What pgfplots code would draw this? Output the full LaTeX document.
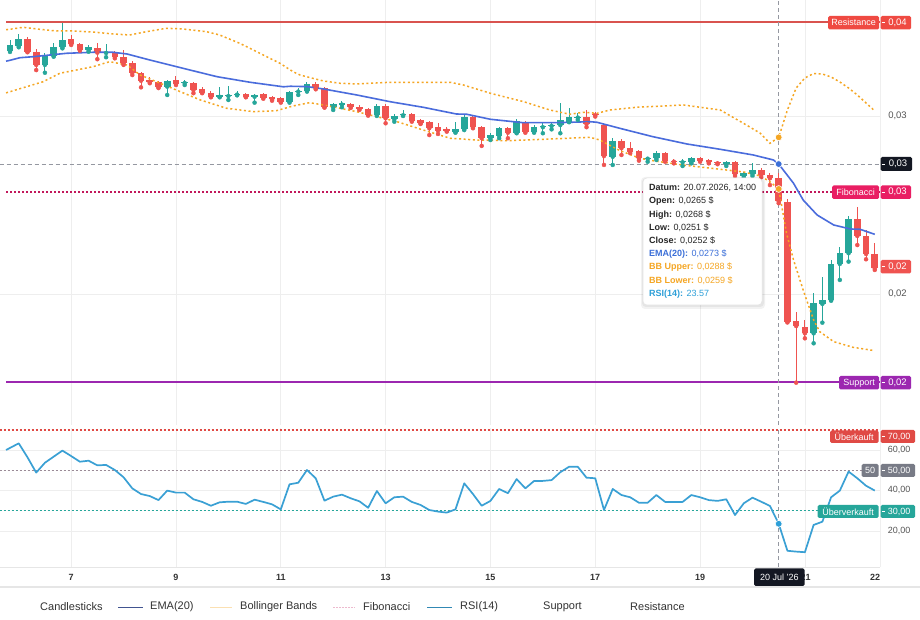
\documentclass[border=0pt]{standalone}
\usepackage{fontspec}
\setmainfont{Liberation Sans}
\usepackage{pgfplots}
\usepackage{pgfplotstable}
\pgfplotsset{compat=1.18}
\definecolor{upc}{HTML}{26A69A}
\definecolor{dnc}{HTML}{EF5350}
\definecolor{emac}{HTML}{4A6CDC}
\definecolor{bbc}{HTML}{F5A623}
\definecolor{rsic}{HTML}{3AA0D4}
\definecolor{resc}{HTML}{D9534F}
\definecolor{reslab}{HTML}{EF4A42}
\definecolor{fibc}{HTML}{C2185B}
\definecolor{fiblab}{HTML}{E91E63}
\definecolor{supc}{HTML}{9C27B0}
\definecolor{gridc}{HTML}{EEEEEE}
\definecolor{crossc}{HTML}{9598A1}
\definecolor{darklab}{HTML}{131722}
\definecolor{graylab}{HTML}{787B86}
\definecolor{txt}{HTML}{333333}
\definecolor{scaletxt}{HTML}{555555}
\definecolor{ttemac}{HTML}{3B6FD8}
\definecolor{ttrsi}{HTML}{2D9FD8}
\definecolor{obc}{HTML}{E04A45}
\definecolor{midc}{HTML}{9A8A96}

\pgfplotstableread{
i o h l c
0 0.03367 0.03427 0.03360 0.03399
1 0.03393 0.03461 0.03386 0.03431
4 0.03287 0.03354 0.03243 0.03343
5 0.03337 0.03408 0.03333 0.03389
6 0.03386 0.03524 0.03380 0.03427
9 0.03371 0.03399 0.03361 0.03386
11 0.03354 0.03405 0.03330 0.03358
18 0.03165 0.03202 0.03118 0.03197
20 0.03185 0.03202 0.03174 0.03189
24 0.03108 0.03165 0.03105 0.03118
25 0.03112 0.03169 0.03090 0.03118
26 0.03120 0.03142 0.03116 0.03124
28 0.03108 0.03124 0.03075 0.03118
32 0.03080 0.03142 0.03075 0.03137
33 0.03137 0.03156 0.03118 0.03141
34 0.03142 0.03193 0.03137 0.03180
37 0.03049 0.03071 0.03034 0.03066
38 0.03064 0.03086 0.03049 0.03071
42 0.03006 0.03066 0.03000 0.03056
44 0.02982 0.03010 0.02968 0.03002
45 0.03004 0.03034 0.03000 0.03010
51 0.02910 0.02968 0.02906 0.02925
52 0.02925 0.03006 0.02921 0.02996
55 0.02875 0.02906 0.02865 0.02893
56 0.02889 0.02940 0.02875 0.02931
58 0.02906 0.02983 0.02903 0.02974
60 0.02912 0.02949 0.02906 0.02940
61 0.02937 0.02959 0.02903 0.02940
62 0.02944 0.02968 0.02925 0.02949
63 0.02949 0.03075 0.02903 0.02978
64 0.02968 0.03043 0.02965 0.02993
65 0.02991 0.03019 0.02978 0.02996
69 0.02771 0.02875 0.02725 0.02861
73 0.02760 0.02771 0.02743 0.02762
74 0.02762 0.02803 0.02753 0.02794
77 0.02740 0.02757 0.02719 0.02743
78 0.02740 0.02771 0.02734 0.02762
82 0.02730 0.02749 0.02719 0.02740
84 0.02665 0.02687 0.02656 0.02678
85 0.02674 0.02738 0.02663 0.02697
92 0.01779 0.02004 0.01723 0.01948
93 0.01944 0.02097 0.01839 0.01966
94 0.01966 0.02191 0.01962 0.02169
95 0.02169 0.02262 0.02079 0.02229
96 0.02229 0.02438 0.02182 0.02421
}\upC

\pgfplotstableread{
i o h l c
2 0.03433 0.03446 0.03358 0.03361
3 0.03361 0.03375 0.03258 0.03287
7 0.03433 0.03455 0.03399 0.03403
8 0.03405 0.03408 0.03367 0.03371
10 0.03380 0.03408 0.03319 0.03356
12 0.03358 0.03367 0.03324 0.03333
13 0.03330 0.03371 0.03287 0.03296
14 0.03296 0.03311 0.03230 0.03243
15 0.03243 0.03249 0.03161 0.03198
16 0.03202 0.03217 0.03184 0.03189
17 0.03191 0.03198 0.03157 0.03161
19 0.03202 0.03225 0.03174 0.03180
21 0.03184 0.03193 0.03128 0.03146
22 0.03150 0.03165 0.03128 0.03131
23 0.03131 0.03142 0.03105 0.03108
27 0.03124 0.03131 0.03105 0.03108
29 0.03124 0.03131 0.03097 0.03103
30 0.03105 0.03112 0.03086 0.03094
31 0.03100 0.03105 0.03075 0.03079
35 0.03180 0.03193 0.03150 0.03156
36 0.03156 0.03161 0.03047 0.03049
39 0.03067 0.03075 0.03045 0.03052
40 0.03052 0.03062 0.03034 0.03038
41 0.03039 0.03047 0.03002 0.03006
43 0.03056 0.03066 0.02959 0.02987
46 0.03010 0.03015 0.02968 0.02974
47 0.02978 0.02982 0.02955 0.02959
48 0.02965 0.02972 0.02893 0.02931
49 0.02937 0.02959 0.02899 0.02917
50 0.02925 0.02937 0.02912 0.02917
53 0.02996 0.03006 0.02931 0.02937
54 0.02937 0.02944 0.02832 0.02875
57 0.02931 0.02937 0.02875 0.02906
59 0.02962 0.02972 0.02906 0.02912
66 0.02993 0.03034 0.02937 0.02955
67 0.03008 0.03023 0.02997 0.03004
68 0.02949 0.02959 0.02725 0.02775
70 0.02861 0.02869 0.02781 0.02819
71 0.02819 0.02856 0.02791 0.02800
72 0.02805 0.02809 0.02749 0.02762
75 0.02794 0.02800 0.02743 0.02747
76 0.02747 0.02757 0.02734 0.02743
79 0.02766 0.02771 0.02743 0.02749
80 0.02753 0.02757 0.02734 0.02740
81 0.02743 0.02749 0.02729 0.02734
83 0.02743 0.02749 0.02663 0.02673
86 0.02697 0.02706 0.02656 0.02669
87 0.02669 0.02682 0.02612 0.02650
88 0.02650 0.02680 0.02510 0.02520
89 0.02519 0.02532 0.01840 0.01844
90 0.01850 0.01901 0.01502 0.01820
91 0.01816 0.01854 0.01751 0.01779
97 0.02421 0.02487 0.02275 0.02326
98 0.02326 0.02360 0.02195 0.02225
99 0.02225 0.02285 0.02135 0.02144
}\dnC

\pgfplotstableread{
i v
-0.45 0.033080
0 0.033129
1.14 0.033275
2.67 0.033332
6.5 0.033523
9.5 0.033579
11.8 0.033579
13.4 0.033483
16.0 0.033146
19.8 0.032680
23.7 0.032208
27.5 0.031893
31.3 0.031640
32.1 0.031670
34.0 0.031650
35.9 0.031517
39.7 0.031180
43.5 0.030804
47.3 0.030489
51.1 0.030112
52.3 0.030096
55.0 0.029815
58.7 0.029624
62.6 0.029624
66.4 0.029680
67.2 0.029646
69.8 0.029309
73.6 0.028837
77.5 0.028427
81.3 0.028129
85.1 0.027809
87.4 0.027528
88 0.027300
89.7 0.026219
90.8 0.025281
92.4 0.024438
94.3 0.023876
96.2 0.023652
97.3 0.023635
99 0.023354
}\ema

\pgfplotstableread{
i v
-0.45 0.034850
0 0.034871
1.5 0.034983
3.4 0.034871
5.3 0.034775
7.2 0.034775
9.5 0.034719
11.8 0.034607
13.7 0.034551
15.6 0.034736
17.9 0.034927
19.8 0.034888
22.5 0.034736
24.0 0.034551
26.3 0.034084
28.6 0.033523
30.9 0.032961
32.4 0.032489
33.2 0.032303
35.1 0.032062
35.9 0.031966
37.8 0.031837
39.7 0.031798
43.5 0.031893
47.3 0.031893
50.4 0.031893
51.9 0.031742
55.0 0.031275
58.8 0.030804
61.8 0.030337
64.1 0.030096
65.6 0.030208
67.2 0.030152
68.7 0.030337
71.7 0.030489
77.1 0.030618
81.3 0.030337
84.3 0.029494
85.9 0.029028
87 0.028466
88 0.028800
89 0.030337
90 0.031573
91 0.032135
92 0.032388
93 0.032360
94 0.032191
95 0.031910
96 0.031573
97 0.031180
98 0.030730
99 0.030281
}\bbu

\pgfplotstableread{
i v
-0.45 0.031300
0 0.031365
1.9 0.031646
3.8 0.031927
5.7 0.032399
7.6 0.032584
9.5 0.032770
11.4 0.033051
13.4 0.032865
14.9 0.032303
17.2 0.031837
19.5 0.031365
21.8 0.030899
24.8 0.030433
27.9 0.030242
30.5 0.030298
32.4 0.030562
34.3 0.030747
35.9 0.030618
39.7 0.030242
44.3 0.029680
47.3 0.029214
50.4 0.028747
53.4 0.028652
56.9 0.028612
61.1 0.028691
66.4 0.028804
67.5 0.028652
69.8 0.028062
72.1 0.027624
73.6 0.027489
77 0.027247
81 0.027022
84 0.026854
85.9 0.026629
87 0.026309
88 0.025900
88.9 0.023410
89.7 0.021910
90.8 0.020225
92.0 0.018539
92.7 0.017882
94.3 0.017320
96.5 0.017006
99 0.016815
}\bbl

\pgfplotstableread{
i v
-0.45 60.1
1 63.4
2 56.5
3 48.9
4 53.8
5 56.8
6 59.8
7 57.1
8 54.3
9 54.8
10 52.5
11 52.7
12 50.2
13 46.6
14 41.1
15 38.3
16 37.3
17 35.3
18 40.0
19 39.0
20 39.0
21 35.7
22 34.4
23 32.5
24 34.2
25 34.5
26 34.5
27 33.4
28 35.5
29 34.4
30 33.2
31 30.7
32 43.1
33 43.9
34 50.2
35 46.1
36 35.0
37 37.0
38 38.0
39 36.2
40 34.7
41 31.5
42 39.8
43 33.7
44 36.7
45 37.0
46 34.4
47 32.9
48 30.4
49 29.6
50 29.1
51 30.7
52 43.6
53 38.3
54 32.5
55 34.9
56 40.8
57 38.7
58 45.7
59 41.1
60 44.8
61 44.8
62 45.2
63 49.1
64 51.8
65 51.8
66 46.4
67 46.1
68 30.4
69 40.8
70 37.8
71 36.7
72 34.0
73 34.0
74 37.8
75 34.4
76 34.4
77 34.4
78 37.8
79 36.7
80 35.3
81 34.9
82 35.7
83 27.9
84 33.7
85 36.5
86 34.5
87 32.4
88 23.57
89 10.2
90 9.8
91 9.5
92 23.0
93 24.6
94 36.7
95 40.0
96 49.4
97 46.1
98 42.4
99 40.0
}\rsi

\pgfplotsset{
  paneopts/.style={
    scale only axis, width=880pt, anchor=south west,
    xmin=-1.1448, xmax=99.599,
    xtick={7,19,31,43,55,67,79,91},
    xticklabels={}, yticklabels={},
    major tick length=0pt, tick style={draw=none},
    xmajorgrids, ymajorgrids,
    grid style={draw=gridc, line width=0.8pt},
    axis line style={draw=none},
    scaled y ticks=false,
  },
  wick/.style={only marks, mark=none, color=#1, forget plot,
    error bars/.cd, y dir=plus, y explicit, error mark=none,
    error bar style={line width=1pt, color=#1}},
  body/.style={only marks, mark=none, color=#1, forget plot,
    error bars/.cd, y dir=plus, y explicit, error mark=none,
    error bar style={line width=6.6pt, color=#1}},
}

\begin{document}
\begin{tikzpicture}
\path[use as bounding box] (0pt,0pt) rectangle (920pt,620pt);
\fill[white] (0pt,0pt) rectangle (920pt,620pt);

% ---------------- main price pane ----------------
\begin{axis}[paneopts, at={(0pt,195pt)}, height=425pt,
  ymin=0.01264, ymax=0.036517, ytick={0.02,0.03}]
\addplot[resc, line width=2.2pt, forget plot] coordinates {(-0.45,0.03528) (99.6,0.03528)};
\addplot[crossc, line width=0.8pt, dash pattern=on 4pt off 3pt, forget plot] coordinates {(-1.2,0.0273) (99.6,0.0273)};
\addplot[fibc, line width=1.3pt, dash pattern=on 2pt off 2pt, forget plot] coordinates {(-0.45,0.02573) (99.6,0.02573)};
\addplot[supc, line width=1.8pt, forget plot] coordinates {(-0.45,0.01506) (99.6,0.01506)};
\addplot[crossc, line width=0.8pt, dash pattern=on 4pt off 3pt, forget plot] coordinates {(88,0.01264) (88,0.036517)};
% wicks
\addplot[wick=upc] table[x=i, y=l, y error plus expr=\thisrow{h}-\thisrow{l}] {\upC};
\addplot[wick=dnc] table[x=i, y=l, y error plus expr=\thisrow{h}-\thisrow{l}] {\dnC};
% bodies
\addplot[body=upc] table[x=i, y=o, y error plus expr={max(\thisrow{c}-\thisrow{o},0.00006)}] {\upC};
\addplot[body=dnc] table[x=i, y=c, y error plus expr={max(\thisrow{o}-\thisrow{c},0.00006)}] {\dnC};
% bands and EMA
\addplot[bbc, line width=1.5pt, dash pattern=on 2pt off 2.6pt, forget plot] table[x=i,y=v] {\bbu};
\addplot[bbc, line width=1.5pt, dash pattern=on 2pt off 2.6pt, forget plot] table[x=i,y=v] {\bbl};
\addplot[emac, line width=1.6pt, line join=round, forget plot] table[x=i,y=v] {\ema};
% hover markers
\addplot[only marks, mark=*, mark size=3.4pt, mark options={fill=bbc, draw=white, line width=0.6pt}, forget plot] coordinates {(88,0.0288) (88,0.0259)};
\addplot[only marks, mark=*, mark size=3.4pt, mark options={fill=ttemac, draw=white, line width=0.6pt}, forget plot] coordinates {(88,0.0273)};
\end{axis}

% ---------------- RSI pane ----------------
\begin{axis}[paneopts, at={(0pt,53pt)}, height=139pt,
  ymin=2.178, ymax=70.99, ytick={20,40,60}]
\addplot[color=obc, line width=1.3pt, dash pattern=on 2pt off 2pt, forget plot] coordinates {(-1.2,70) (99.6,70)};
\addplot[color=midc, line width=1.3pt, dash pattern=on 2pt off 2pt, forget plot] coordinates {(-1.2,50) (99.6,50)};
\addplot[color=upc, line width=1.3pt, dash pattern=on 2pt off 2pt, forget plot] coordinates {(-1.2,30) (99.6,30)};
\addplot[crossc, line width=0.8pt, dash pattern=on 4pt off 3pt, forget plot] coordinates {(88,2.178) (88,70.99)};
\addplot[rsic, line width=1.7pt, line join=round, forget plot] table[x=i,y=v] {\rsi};
\addplot[only marks, mark=*, mark size=3.4pt, mark options={fill=ttrsi, draw=white, line width=0.6pt}, forget plot] coordinates {(88,23.57)};
\end{axis}

% ---------------- annotations in pixel coordinates ----------------
\begin{scope}[x=1pt, y=-1pt, shift={(0pt,620pt)}]
% separators
\draw[draw=gridc!80!gray!40, line width=0.8pt] (880,0) -- (880,567);
\draw[draw=gridc!70!gray!50, line width=0.8pt] (0,567.5) -- (880,567.5);
\draw[draw=gridc!70!gray!50, line width=1.4pt] (0,587) -- (920,587);

% tooltip
\fill[black, opacity=0.05, rounded corners=4pt] (641,177) rectangle (765,309);
\fill[black, opacity=0.05, rounded corners=4pt] (642,178) rectangle (764,307);
\filldraw[fill=white, draw=black!10, line width=0.5pt, rounded corners=4pt] (643,178) rectangle (762,305);
\begin{scope}[every node/.style={anchor=west, inner sep=0pt, font=\fontsize{9}{10}\selectfont, text=black!85}]
\node at (649,188.3) {\textbf{Datum:} 20.07.2026, 14:00};
\node at (649,201.5) {\textbf{Open:} 0,0265 \$};
\node at (649,214.7) {\textbf{High:} 0,0268 \$};
\node at (649,228) {\textbf{Low:} 0,0251 \$};
\node at (649,241.2) {\textbf{Close:} 0,0252 \$};
\node[text=ttemac] at (649,254.4) {\textbf{EMA(20):} 0,0273 \$};
\node[text=bbc] at (649,267.6) {\textbf{BB Upper:} 0,0288 \$};
\node[text=bbc] at (649,280.8) {\textbf{BB Lower:} 0,0259 \$};
\node[text=ttrsi] at (649,294) {\textbf{RSI(14):} 23.57};
\end{scope}

% price scale labels (main)
\begin{scope}[every node/.style={inner sep=0pt, font=\fontsize{9}{10}\selectfont}]
% Resistance
\fill[reslab, rounded corners=1.5pt] (828,16) rectangle (879,29.5);
\node[text=white] at (853.5,22.7) {Resistance};
\fill[reslab, rounded corners=1.5pt] (880.5,16) rectangle (911,29.5);
\draw[white, line width=0.7pt] (881.5,22.7) -- (884.5,22.7);
\node[text=white, font=\fontsize{9.5}{10}\selectfont] at (897.5,22.7) {0,04};
% gray 0,03
\node[text=scaletxt, font=\fontsize{9.5}{10}\selectfont] at (897.5,116) {0,03};
% crosshair price
\fill[darklab, rounded corners=1.5pt] (880.5,157) rectangle (912,171);
\draw[white, line width=0.7pt] (881.5,164) -- (884.5,164);
\node[text=white, font=\fontsize{9.5}{10}\selectfont] at (898,164) {0,03};
% Fibonacci
\fill[fiblab, rounded corners=1.5pt] (832,185.5) rectangle (879,199);
\node[text=white] at (855.5,192.2) {Fibonacci};
\fill[fiblab, rounded corners=1.5pt] (880.5,185.5) rectangle (911,199);
\draw[white, line width=0.7pt] (881.5,192.2) -- (884.5,192.2);
\node[text=white, font=\fontsize{9.5}{10}\selectfont] at (897.5,192.2) {0,03};
% last price
\fill[dnc, rounded corners=1.5pt] (880.5,260) rectangle (911,273.5);
\draw[white, line width=0.7pt] (881.5,266.8) -- (884.5,266.8);
\node[text=white, font=\fontsize{9.5}{10}\selectfont] at (897.5,266.8) {0,02};
% gray 0,02
\node[text=scaletxt, font=\fontsize{9.5}{10}\selectfont] at (897.5,294) {0,02};
% Support
\fill[supc, rounded corners=1.5pt] (839,376) rectangle (879,389.5);
\node[text=white] at (859,382.8) {Support};
\fill[supc, rounded corners=1.5pt] (880.5,376) rectangle (911,389.5);
\draw[white, line width=0.7pt] (881.5,382.8) -- (884.5,382.8);
\node[text=white, font=\fontsize{9.5}{10}\selectfont] at (897.5,382.8) {0,02};

% RSI scale labels
\fill[obc, rounded corners=1.5pt] (830,430.5) rectangle (878.5,443);
\node[text=white] at (854.2,436.8) {Überkauft};
\fill[obc, rounded corners=1.5pt] (880.5,430) rectangle (915,443);
\draw[white, line width=0.7pt] (881.5,436.5) -- (884.5,436.5);
\node[text=white] at (899,436.5) {70,00};
\node[text=scaletxt] at (899,449.5) {60,00};
\fill[graylab, rounded corners=1.5pt] (861.5,464) rectangle (878.5,477);
\node[text=white] at (870,470.5) {50};
\fill[graylab, rounded corners=1.5pt] (880.5,464) rectangle (915,477);
\draw[white, line width=0.7pt] (881.5,470.5) -- (884.5,470.5);
\node[text=white] at (899,470.5) {50,00};
\node[text=scaletxt] at (899,490) {40,00};
\fill[upc, rounded corners=1.5pt] (817.5,505) rectangle (878.5,518);
\node[text=white] at (848,511.5) {Überverkauft};
\fill[upc, rounded corners=1.5pt] (880.5,505) rectangle (915,518);
\draw[white, line width=0.7pt] (881.5,511.5) -- (884.5,511.5);
\node[text=white] at (899,511.5) {30,00};
\node[text=scaletxt] at (899,530.5) {20,00};
\end{scope}

% time axis
\begin{scope}[every node/.style={inner sep=0pt, font=\fontsize{9}{10}\selectfont\bfseries, text=txt}]
\node at (71.1,577) {7};
\node at (176,577) {9};
\node at (280.8,577) {11};
\node at (385.6,577) {13};
\node at (490.4,577) {15};
\node at (595.2,577) {17};
\node at (700,577) {19};
\node at (805.7,577) {21};
\node at (875,577) {22};
\end{scope}
\fill[darklab, rounded corners=1.5pt] (754,568.5) rectangle (804.5,586);
\node[inner sep=0pt, text=white, font=\fontsize{9}{10}\selectfont] at (779.3,577.3) {20 Jul '26};

% legend
\begin{scope}[every node/.style={anchor=west, inner sep=0pt, font=\fontsize{11}{12}\selectfont, text=txt}]
\node at (40,607) {Candlesticks};
\draw[color=emac!60!black!90, line width=0.9pt] (118,607) -- (143,607);
\node at (150,607) {EMA(20)};
\draw[color=bbc!35, line width=0.9pt] (210,607) -- (232,607);
\node at (240,607) {Bollinger Bands};
\draw[color=fibc!30, line width=0.9pt, dash pattern=on 1.5pt off 1.5pt] (333,607) -- (355,607);
\node at (363,607) {Fibonacci};
\draw[color=rsic!85!black, line width=0.9pt] (427,607) -- (452,607);
\node at (460,607) {RSI(14)};
\node at (543,607) {Support};
\node at (630,607) {Resistance};
\end{scope}
\end{scope}
\end{tikzpicture}
\end{document}
